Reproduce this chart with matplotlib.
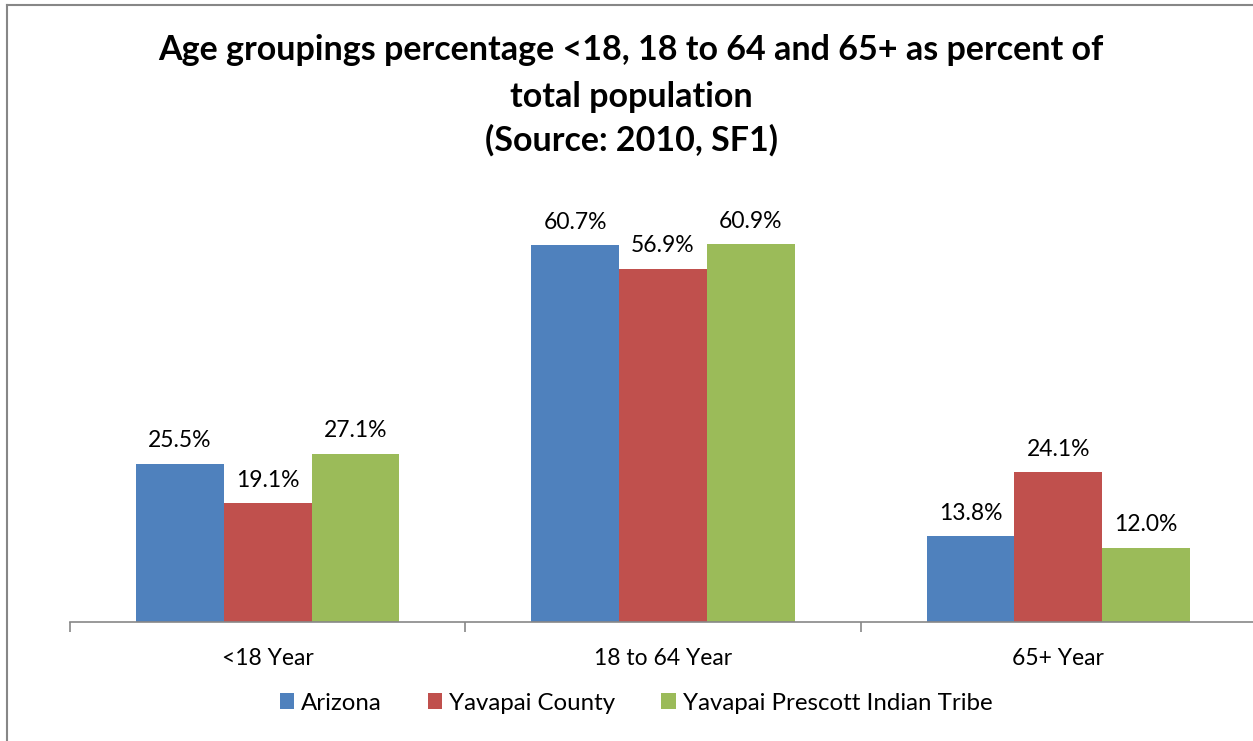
import numpy as np
import matplotlib.pyplot as plt
from matplotlib.lines import Line2D

plt.rcParams['font.family'] = ['Lato', 'DejaVu Sans']

categories = ['<18 Year', '18 to 64 Year', '65+ Year']
series = ['Arizona', 'Yavapai County', 'Yavapai Prescott Indian Tribe']
arizona = [25.5, 60.7, 13.8]
yavapai_county = [19.1, 56.9, 24.1]
tribe = [27.1, 60.9, 12.0]
colors = ['#4f81bd', '#c0504d', '#9bbb59']

FS = 16.5

fig = plt.figure(figsize=(12.53, 7.41), dpi=100)
ax = fig.add_axes([70 / 1253, 1 - 622 / 741, (1256 - 70) / 1253, (622 - 187.5) / 741])

x = np.arange(len(categories))
w = 0.222
for i, (vals, c, name) in enumerate(zip([arizona, yavapai_county, tribe], colors, series)):
    bars = ax.bar(x + (i - 1) * w, vals, w, color=c, label=name)
    for b, v in zip(bars, vals):
        ax.text(b.get_x() + b.get_width() / 2, v + 2.0, '{:.1f}%'.format(v),
                ha='center', va='bottom', fontsize=FS)

ax.set_xlim(-0.5, 2.5)
ax.set_ylim(0, 70)
ax.set_yticks([])
for s in ('top', 'right', 'left'):
    ax.spines[s].set_visible(False)
ax.spines['bottom'].set_color('#878787')
ax.spines['bottom'].set_linewidth(1.2)
ax.set_xticks([-0.5, 0.5, 1.5, 2.5])
ax.set_xticklabels([])
ax.set_xticks(x, minor=True)
ax.set_xticklabels(categories, minor=True, fontsize=FS)
ax.tick_params(axis='x', which='major', length=7, color='#878787', width=1.2)
ax.tick_params(axis='x', which='minor', length=0, pad=19)

title_lines = ['Age groupings percentage <18, 18 to 64 and 65+ as percent of',
               'total population', '(Source: 2010, SF1)']
for line, yy in zip(title_lines, [50, 97, 140]):
    fig.text(0.5036, 1 - yy / 741, line, ha='center', va='center', fontsize=24.5, fontweight='bold')

ax.legend(loc='center', bbox_to_anchor=(636 / 1253, 1 - 703 / 741), bbox_transform=fig.transFigure,
          ncol=3, frameon=False, fontsize=17.3, handlelength=0.6, handleheight=0.6,
          handletextpad=0.3, columnspacing=1.9)

# chart border
fig.add_artist(Line2D([7 / 1253, 7 / 1253], [0, 1 - 5 / 741], transform=fig.transFigure, color='#878787', lw=1.5))
fig.add_artist(Line2D([7 / 1253, 1], [1 - 5 / 741, 1 - 5 / 741], transform=fig.transFigure, color='#878787', lw=1.5))

fig.savefig('out.png', dpi=100)
